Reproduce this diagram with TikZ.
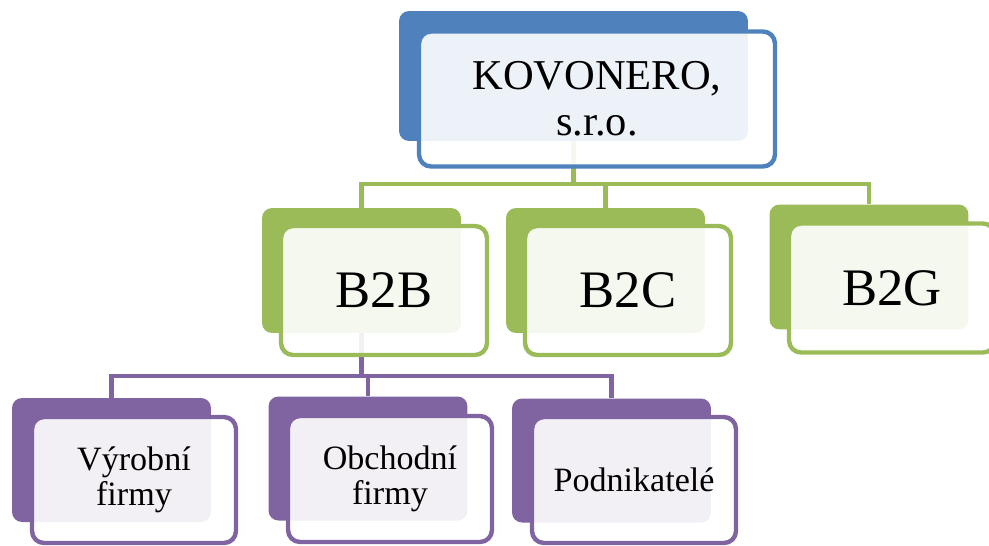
\documentclass[tikz,border=0pt]{standalone}
\usepackage{fontspec}
\setmainfont{Liberation Serif}
\usetikzlibrary{positioning}
\definecolor{kblue}{HTML}{4F81BD}
\definecolor{kgreen}{HTML}{9BBB59}
\definecolor{kpurple}{HTML}{8064A2}

\begin{document}
\begin{tikzpicture}[
    x=0.02cm, y=-0.02cm,
    rear/.style={rectangle, rounded corners=0.2cm, inner sep=0pt,
                 minimum width=3.98cm, minimum height=2.5cm},
    front/.style={rectangle, rounded corners=0.24cm, line width=2.5pt, inner sep=0pt,
                  fill=white, fill opacity=0.9, text opacity=1, align=center,
                  minimum width=4.12cm, minimum height=2.58cm},
    toprear/.style={rear, fill=kblue, minimum width=6.98cm, minimum height=2.6cm},
    topfront/.style={front, draw=kblue, minimum width=7.12cm, minimum height=2.7cm,
                     font=\fontsize{24.2}{26}\selectfont},
    grear/.style={rear, fill=kgreen},
    gfront/.style={front, draw=kgreen, font=\fontsize{30}{31}\selectfont},
    prear/.style={rear, fill=kpurple, minimum height=2.48cm},
    pfront/.style={front, draw=kpurple, minimum width=4.08cm, minimum height=2.52cm,
                   font=\fontsize{19.4}{20}\selectfont},
    gline/.style={kgreen, line width=2.7pt},
    pline/.style={kpurple, line width=2.5pt}
  ]
  \useasboundingbox (0,0) rectangle (989,545);
  \clip (0,0) rectangle (989,545);

  % Back plates
  \node[toprear] (top) at (573.5,76) {};
  \node[grear] (b2b) at (361.5,270.5) {};
  \node[grear] (b2c) at (605.5,270.5) {};
  \node[grear] (b2g) at (869,267) {};
  \node[prear] (vyr) at (111.5,460) {};
  \node[prear] (obch) at (368,458.5) {};
  \node[prear] (podn) at (611.5,460.5) {};

  % Connections
  \coordinate (gbus) at (573.5,184);
  \coordinate (pbus) at (361.5,376);
  \draw[gline] (top.south) -- (gbus) -| (b2b.north);
  \draw[gline] (gbus) -| (b2c.north);
  \draw[gline] (gbus) -| (b2g.north);
  \draw[pline] (b2b.south) -- (pbus) -| (vyr.north);
  \draw[pline] (pbus) -| (obch.north);
  \draw[pline] (pbus) -| (podn.north);

  % Front boxes with the text
  \node[topfront] (topf) at (597,99) {KOVONERO,\\s.r.o.};
  \node[gfront] (b2bf) at (384,290.5) {B2B};
  \node[gfront] (b2cf) at (628,290.5) {B2C};
  \node[gfront] (b2gf) at (892,288) {B2G};
  \node[pfront] (vyrf) at (134,480) {Výrobní\\firmy};
  \node[pfront] (obchf) at (390,479) {Obchodní\\firmy};
  \node[pfront] (podnf) at (634,480) {Podnikatelé};

\end{tikzpicture}
\end{document}
